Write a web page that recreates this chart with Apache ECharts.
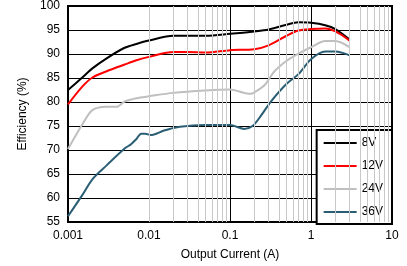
<!DOCTYPE html>
<html>
<head>
<meta charset="utf-8">
<script src="https://cdn.jsdelivr.net/npm/echarts@6/dist/echarts.min.js"></script>
<style>
html,body{margin:0;padding:0;background:#fff;}
#c{width:407px;height:266px;}
</style>
</head>
<body>
<div id="c"></div>
<script>
// ---- data ----
const seriesNames = ['8V', '12V', '24V', '36V'];
const current8 = [0.001, 0.0015, 0.002, 0.003, 0.005, 0.007, 0.01, 0.02, 0.03, 0.05, 0.1, 0.2, 0.3, 0.5, 0.7, 1, 1.5, 2, 3];
const eff8 = [82.5, 85.1, 87.0, 89.1, 91.3, 92.1, 92.8, 93.8, 93.8, 93.8, 94.2, 94.7, 95.1, 96.1, 96.6, 96.5, 96.0, 95.2, 93.0];
const current12 = [0.001, 0.0015, 0.002, 0.003, 0.005, 0.007, 0.01, 0.02, 0.03, 0.05, 0.1, 0.2, 0.3, 0.5, 0.7, 1, 1.5, 2, 3];
const eff12 = [79.5, 83.2, 85.1, 86.4, 87.8, 88.7, 89.4, 90.4, 90.4, 90.3, 90.8, 91.0, 91.8, 93.8, 94.9, 95.2, 95.3, 94.7, 92.8];
const current24 = [0.001, 0.0015, 0.002, 0.003, 0.004, 0.005, 0.007, 0.01, 0.02, 0.05, 0.1, 0.15, 0.18, 0.2, 0.27, 0.35, 0.5, 0.7, 1, 1.5, 2, 3];
const eff24 = [70.2, 75.3, 78.3, 79.0, 79.0, 80.1, 80.8, 81.2, 81.9, 82.4, 82.6, 81.9, 81.7, 82.0, 83.6, 86.3, 88.6, 90.1, 91.4, 92.7, 92.7, 91.4];
const current36 = [0.001, 0.0015, 0.002, 0.003, 0.005, 0.006, 0.007, 0.008, 0.009, 0.0105, 0.015, 0.02, 0.03, 0.05, 0.1, 0.15, 0.19, 0.24, 0.32, 0.5, 0.7, 1, 1.5, 2, 3];
const eff36 = [56.2, 60.6, 63.9, 66.8, 70.3, 71.2, 72.3, 73.4, 73.4, 73.1, 74.0, 74.6, 75.0, 75.2, 75.2, 74.4, 75.0, 77.1, 80.1, 83.8, 85.8, 88.9, 90.5, 90.5, 89.7];
const xTickLabels = ['0.001', '0.01', '0.1', '1', '10'];
const colors = ['#000000', '#ff0000', '#bfbfbf', '#2a5e74'];

// minor grid positions (2..9 of each decade)
const decades = [0.001, 0.01, 0.1, 1];
const minorX = [];
decades.forEach(d => { for (let k = 2; k <= 9; k++) minorX.push(+(d * k).toPrecision(6)); });

const pairs = (xs, ys) => xs.map((x, i) => [x, ys[i]]);
const allData = [pairs(current8, eff8), pairs(current12, eff12), pairs(current24, eff24), pairs(current36, eff36)];

const font = 'Liberation Sans, Arial, sans-serif';
const legendIcon = 'path://M0,0h0.01v0.01h-0.01z M0,6h33v2h-33z M0,14h0.01v-0.01h-0.01z';
const chart = echarts.init(document.getElementById('c'), null, {renderer: 'canvas'});
const lineSeries = seriesNames.map((n, i) => ({
  name: n, type: 'line', data: allData[i], smooth: 0.3, symbol: 'none',
  lineStyle: {color: colors[i], width: 2}, itemStyle: {color: colors[i]}, z: 3
}));
lineSeries.push({
  name: 'minor', type: 'line', data: [], z: 1, silent: true,
  markLine: {
    silent: true, symbol: 'none', animation: false,
    label: {show: false},
    lineStyle: {color: '#c8c8c8', width: 1, type: 'solid'},
    data: minorX.map(v => ({xAxis: v}))
  }
});
chart.setOption({
  animation: false,
  backgroundColor: '#fff',
  grid: {left: 68, right: 15, top: 5, bottom: 42, show: true, borderColor: '#000', borderWidth: 2, backgroundColor: 'transparent'},
  xAxis: {
    type: 'log', logBase: 10, min: 0.001, max: 10,
    name: 'Output Current (A)', nameLocation: 'middle', nameGap: 27,
    nameTextStyle: {color: '#000', fontSize: 12, fontFamily: font},
    axisLine: {show: true, lineStyle: {color: '#000', width: 2}},
    axisTick: {show: false},
    axisLabel: {color: '#000', fontSize: 12, fontFamily: font, margin: 8,
      formatter: v => { const s = String(+(+v).toPrecision(6)); return xTickLabels.includes(s) ? s : ''; }},
    splitLine: {show: true, lineStyle: {color: '#000', width: 1}},
    minorTick: {show: false}, minorSplitLine: {show: false}
  },
  yAxis: {
    type: 'value', min: 55, max: 100, interval: 5,
    name: 'Efficiency (%)', nameLocation: 'middle', nameGap: 35,
    nameTextStyle: {color: '#000', fontSize: 12, fontFamily: font},
    axisLine: {show: true, lineStyle: {color: '#000', width: 2}},
    axisTick: {show: false},
    axisLabel: {color: '#000', fontSize: 12, fontFamily: font, margin: 8},
    splitLine: {show: true, lineStyle: {color: '#000', width: 1}}
  },
  legend: {
    data: seriesNames.map(n => ({name: n, icon: legendIcon})),
    orient: 'vertical', right: 15, bottom: 42,
    backgroundColor: '#fff', borderColor: '#000', borderWidth: 2,
    padding: [6, 9, 5, 7], itemGap: 9, itemWidth: 33, itemHeight: 14, itemTextGap: 3,
    textStyle: {color: '#000', fontSize: 12, fontFamily: font},
    selectedMode: false
  },
  series: lineSeries
});
</script>
</body>
</html>
